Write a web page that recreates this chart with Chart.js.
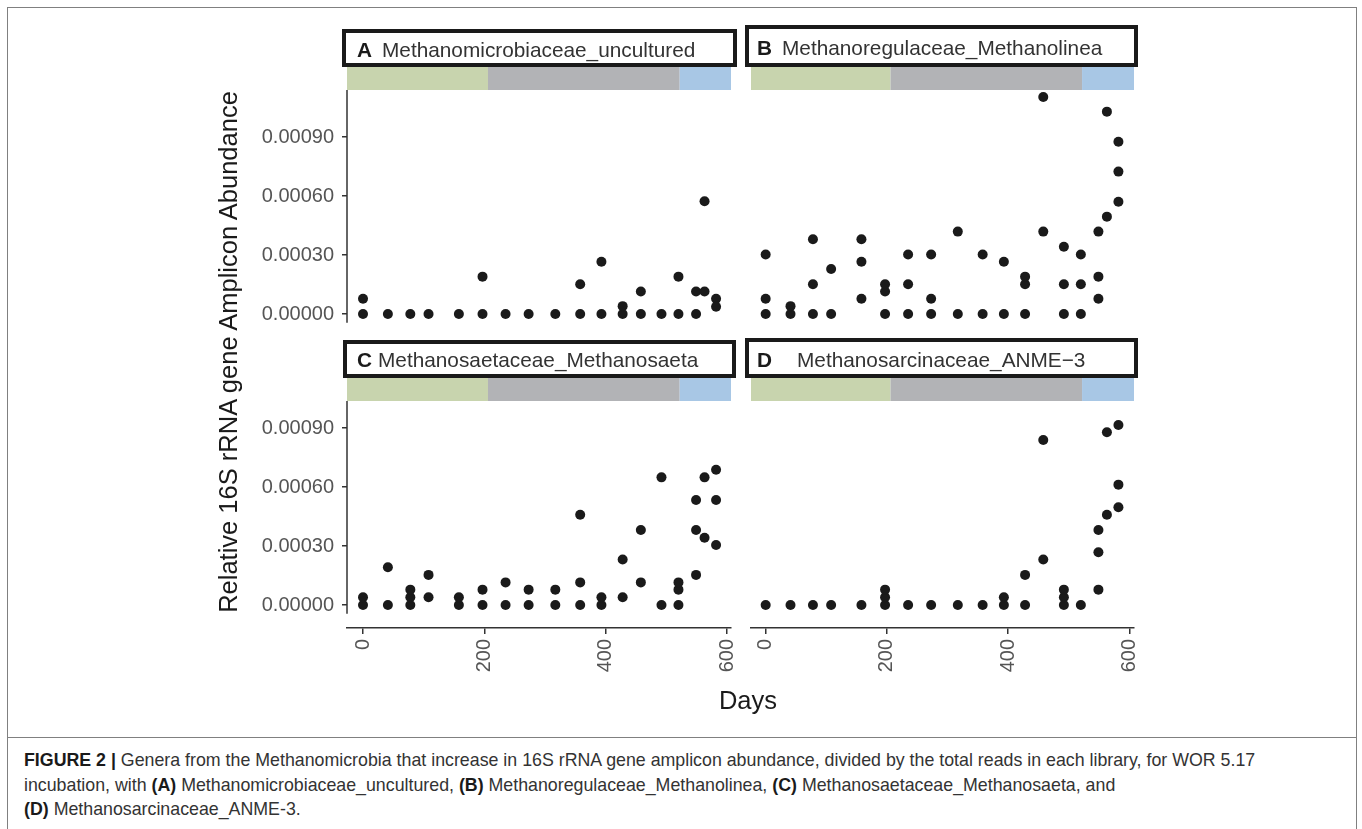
<!DOCTYPE html>
<html>
<head>
<meta charset="utf-8">
<script src="https://cdn.jsdelivr.net/npm/chart.js@4.4.1/dist/chart.umd.min.js"></script>
<style>
  html, body { margin: 0; padding: 0; background: #fff; }
  body { width: 1362px; height: 829px; position: relative; overflow: hidden; font-family: 'Liberation Sans', Arial, sans-serif; }
  .frame { position: absolute; left: 7px; top: 7px; width: 1348px; height: 860px; border: 1px solid #808080; }
  .rule { position: absolute; left: 8px; top: 737px; width: 1348px; height: 1px; background: #808080; }
  canvas { position: absolute; }
  .strip { position: absolute; box-sizing: border-box; border: 4px solid #1a1a1a; background: #fff; }
  .lab { position: absolute; font-size: 20.8px; line-height: 24px; white-space: nowrap; color: #333; }
  .lab.key { font-weight: bold; color: #1a1a1a; }
  .axtitle { position: absolute; font-size: 25.5px; line-height: 28px; color: #1a1a1a; text-align: center; white-space: nowrap; }
  .cap { position: absolute; left: 24px; font-size: 17.8px; line-height: 22px; color: #333; white-space: nowrap; }
  .cap b { color: #1a1a1a; }
</style>
</head>
<body>
<div class="frame"></div>
<div class="rule"></div>

<canvas id="panel-a" width="491" height="278" style="left:240px;top:66px"></canvas>
<canvas id="panel-b" width="383" height="278" style="left:751px;top:66px"></canvas>
<canvas id="panel-c" width="521" height="310" style="left:240px;top:378px"></canvas>
<canvas id="panel-d" width="428" height="310" style="left:736px;top:378px"></canvas>

<div class="axtitle" style="left:-72px;top:338px;width:600px;transform:rotate(-90deg)">Relative 16S rRNA gene Amplicon Abundance</div>
<div class="axtitle" style="left:648px;top:686px;width:200px">Days</div>

<div class="cap" style="top:749px"><b>FIGURE 2 |</b> Genera from the Methanomicrobia that increase in 16S rRNA gene amplicon abundance, divided by the total reads in each library, for WOR 5.17</div>
<div class="cap" style="top:774px">incubation, with <b>(A)</b> Methanomicrobiaceae_uncultured, <b>(B)</b> Methanoregulaceae_Methanolinea, <b>(C)</b> Methanosaetaceae_Methanosaeta, and</div>
<div class="cap" style="top:798px"><b>(D)</b> Methanosarcinaceae_ANME-3.</div>

<script>
// ----------------------------------------------
// Data
// ----------------------------------------------
const days = [0, 41, 78, 108, 158, 197, 235, 273, 317, 358, 393, 428, 458, 492, 520, 549, 563, 582];

const xTicks = [0, 200, 400, 600];
const yTicks = [0, 0.0003, 0.0006, 0.0009];

const panelKeys = ['A', 'B', 'C', 'D'];
const panelNames = [
  'Methanomicrobiaceae_uncultured',
  'Methanoregulaceae_Methanolinea',
  'Methanosaetaceae_Methanosaeta',
  'Methanosarcinaceae_ANME\u22123',
];

// incubation phases shown in the strip bar (day where each phase ends)
const phaseEnds = [206, 522];
const phaseColors = ['#c8d4ae', '#b2b3b6', '#a8c7e5'];

// replicate values per sampling day
const uncultured = [
  [0, 0.000078], [0], [0], [0], [0], [0, 0.00019], [0], [0], [0],
  [0, 0.000151], [0, 0.000266], [0, 0.00004], [0, 0.000114], [0],
  [0, 0.00019], [0, 0.000114], [0.000114, 0.000573], [0.000078, 0.000037],
];

const methanolinea = [
  [0, 0.000078, 0.000303], [0, 0.00004], [0, 0.000151, 0.00038], [0, 0.000229],
  [0.000078, 0.000266, 0.00038], [0, 0.000114, 0.000151], [0, 0.000151, 0.000303],
  [0, 0.000078, 0.000303], [0, 0.000419], [0, 0.000303], [0, 0.000266],
  [0, 0.000151, 0.00019], [0.000419, 0.001103], [0, 0.000151, 0.000342],
  [0, 0.000151, 0.000303], [0.000078, 0.00019, 0.000419], [0.000495, 0.001029],
  [0.000571, 0.000724, 0.000876],
];

const methanosaeta = [
  [0, 0.000039], [0, 0.000192], [0, 0.000039, 0.000078], [0.000039, 0.000153],
  [0, 0.000039], [0, 0.000078], [0, 0.000115], [0, 0.000078], [0, 0.000078],
  [0, 0.000115, 0.000459], [0, 0.000039], [0.000039, 0.000231], [0.000115, 0.000381],
  [0, 0.000649], [0, 0.000078, 0.000115], [0.000153, 0.000381, 0.000534],
  [0.000342, 0.000649], [0.000305, 0.000534, 0.000688],
];

const anme3 = [
  [0], [0], [0], [0], [0], [0, 0.000039, 0.000078], [0], [0], [0], [0],
  [0, 0.000039], [0, 0.000153], [0.000231, 0.000839], [0, 0.000039, 0.000078],
  [0], [0.000078, 0.000268, 0.000381], [0.000459, 0.000878], [0.000497, 0.000612, 0.000915],
];

// ----------------------------------------------
// Layout
// ----------------------------------------------
const FONT = "'Liberation Sans', Arial, sans-serif";
const INK = '#333333';

const panels = [
  { id: 'panel-a', values: uncultured, left: true, bottom: false, xMin: -26.4, xMax: 606.6,
    box: [342, 29, 395, 38], keyAt: [357, 50], nameAt: [382, 50] },
  { id: 'panel-b', values: methanolinea, left: false, bottom: false, xMin: -24.2, xMax: 607.7,
    box: [745, 25, 393, 42], keyAt: [757, 48], nameAt: [782, 48] },
  { id: 'panel-c', values: methanosaeta, left: true, bottom: true, xMin: -26.4, xMax: 606.6,
    box: [343, 340, 393, 38], keyAt: [357, 360], nameAt: [378, 360] },
  { id: 'panel-d', values: anme3, left: false, bottom: true, xMin: -24.2, xMax: 607.7,
    box: [745, 338, 393, 40], keyAt: [757, 360], nameAt: [797, 360] },
];

// strip boxes with the panel key and genus name
panels.forEach((p, i) => {
  const box = document.createElement('div');
  box.className = 'strip';
  box.style.cssText = `left:${p.box[0]}px;top:${p.box[1]}px;width:${p.box[2]}px;height:${p.box[3]}px`;
  document.body.appendChild(box);

  const key = document.createElement('div');
  key.className = 'lab key';
  key.textContent = panelKeys[i];
  key.style.cssText = `left:${p.keyAt[0]}px;top:${p.keyAt[1] - 12}px`;
  document.body.appendChild(key);

  const name = document.createElement('div');
  name.className = 'lab';
  name.textContent = panelNames[i];
  name.style.cssText = `left:${p.nameAt[0]}px;top:${p.nameAt[1] - 12}px`;
  document.body.appendChild(name);
});

// coloured phase bar above each panel + left axis line
const phaseStrip = {
  id: 'phaseStrip',
  afterDraw(chart, args, opts) {
    const { ctx, chartArea } = chart;
    const xs = chart.scales.x;
    const edges = [xs.min, ...phaseEnds, xs.max];
    ctx.save();
    for (let i = 0; i < phaseColors.length; i++) {
      const x0 = xs.getPixelForValue(edges[i]);
      const x1 = xs.getPixelForValue(edges[i + 1]);
      ctx.fillStyle = phaseColors[i];
      ctx.fillRect(x0, chartArea.top - 23.5, x1 - x0, 23.5);
    }
    if (opts.leftAxis) {
      const ys = chart.scales.y;
      ctx.strokeStyle = INK;
      ctx.lineWidth = 1.5;
      ctx.beginPath();
      ctx.moveTo(chartArea.left, chartArea.top);
      ctx.lineTo(chartArea.left, ys.getPixelForValue(-0.000045));
      ctx.stroke();
    }
    ctx.restore();
  },
};

const buildPoints = values => {
  const pts = [];
  for (let i = 0; i < days.length; i++) {
    values[i].forEach(v => pts.push({ x: days[i], y: v }));
  }
  return pts;
};

const initPanel = p => {
  const ctx = document.getElementById(p.id).getContext('2d');
  // spare room so rotated / overhanging tick labels never squeeze the plot
  const padding = p.bottom
    ? { top: 23, left: p.left ? 0 : 15, right: 30, bottom: 0 }
    : { top: 24, left: 0, right: 0, bottom: 20 };

  new Chart(ctx, {
    type: 'scatter',
    data: {
      datasets: [{
        data: buildPoints(p.values),
        backgroundColor: '#1a1a1a',
        borderWidth: 0,
        pointRadius: 5,
        pointHoverRadius: 5,
        clip: false,
      }],
    },
    options: {
      responsive: false,
      animation: false,
      layout: { padding, autoPadding: false },
      plugins: {
        legend: { display: false },
        tooltip: { enabled: false },
        phaseStrip: { leftAxis: p.left },
      },
      scales: {
        x: {
          type: 'linear',
          min: p.xMin,
          max: p.xMax,
          display: p.bottom,
          afterBuildTicks: s => { s.ticks = xTicks.map(v => ({ value: v })); },
          afterFit: s => { if (p.bottom) s.height = 60; },
          border: { display: true, color: INK, width: 1.5 },
          grid: { display: true, drawOnChartArea: false, drawTicks: true, tickLength: 6, color: INK, lineWidth: 1.5 },
          ticks: { minRotation: 90, maxRotation: 90, padding: 5, color: '#555', font: { family: FONT, size: 20 } },
        },
        y: {
          type: 'linear',
          min: p.bottom ? -0.000117 : -0.0000508,
          max: p.bottom ? 0.0010373 : 0.001139,
          display: p.left,
          afterBuildTicks: s => { s.ticks = yTicks.map(v => ({ value: v })); },
          afterFit: s => { if (p.left) s.width = 107; },
          border: { display: false },
          grid: { display: true, drawOnChartArea: false, drawTicks: true, tickLength: 5, color: INK, lineWidth: 1.5 },
          ticks: {
            padding: 8,
            color: '#555',
            font: { family: FONT, size: 20 },
            callback: v => v.toFixed(5),
          },
        },
      },
    },
    plugins: [phaseStrip],
  });
};

panels.forEach(initPanel);
</script>
</body>
</html>
